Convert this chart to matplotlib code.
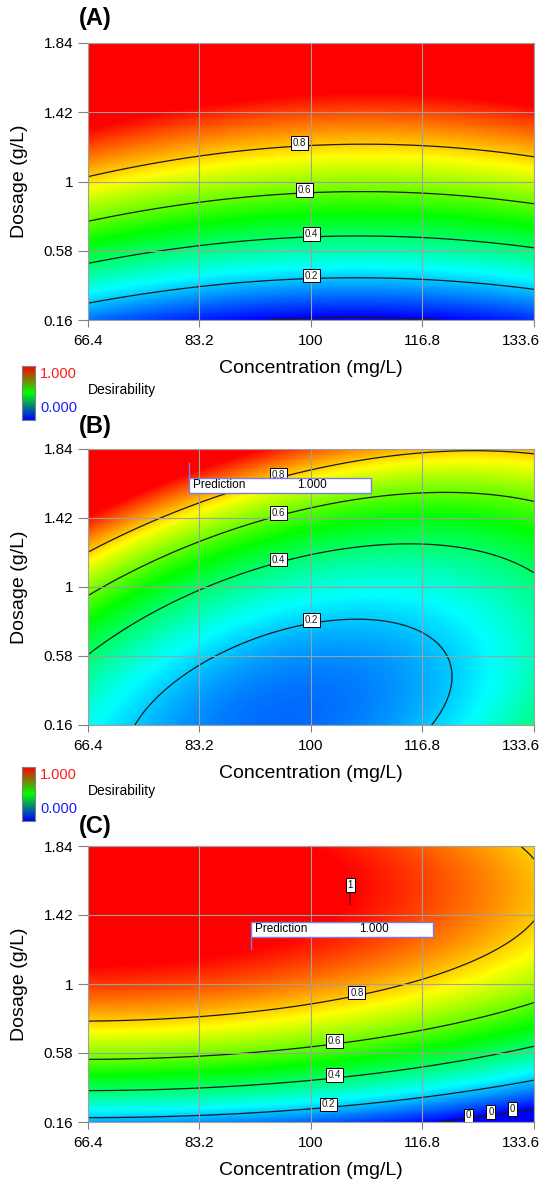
import numpy as np
import matplotlib.pyplot as plt
from matplotlib.colors import LinearSegmentedColormap
from matplotlib.patches import Rectangle
from matplotlib.transforms import ScaledTranslation

plt.rcParams['font.family'] = ['Liberation Sans', 'DejaVu Sans']

conc_ticks = [66.4, 83.2, 100, 116.8, 133.6]
conc_labels = ['66.4', '83.2', '100', '116.8', '133.6']
dose_ticks = [0.16, 0.58, 1, 1.42, 1.84]
dose_labels = ['0.16', '0.58', '1', '1.42', '1.84']
levels = [0.2, 0.4, 0.6, 0.8]

# points on the contour lines: concentration, dosage, desirability
a_conc = [66.4, 83.2, 100, 110.8, 116.0, 133.6,
          66.4, 83.2, 100, 116.0, 133.6,
          66.4, 83.2, 100, 116.0, 133.6,
          66.4, 83.2, 100, 110.8, 133.6,
          93.2, 119.2]
a_dose = [1.026, 1.158, 1.218, 1.224, 1.217, 1.152,
          0.761, 0.875, 0.935, 0.929, 0.866,
          0.504, 0.609, 0.662, 0.660, 0.597,
          0.261, 0.362, 0.413, 0.417, 0.346,
          0.16, 0.16]
a_desir = [0.8, 0.8, 0.8, 0.8, 0.8, 0.8,
           0.6, 0.6, 0.6, 0.6, 0.6,
           0.4, 0.4, 0.4, 0.4, 0.4,
           0.2, 0.2, 0.2, 0.2, 0.2,
           0.0, 0.0]

b_conc = [66.4, 75.3, 83.2, 94.9, 108.9, 116.9, 125.5, 133.6,
          66.4, 83.2, 94.9, 100, 116.9, 121.5, 133.6,
          66.4, 83.2, 94.9, 100, 116.9, 133.6,
          72.8, 80.3, 87.9, 100, 106.9, 115.5, 120.5, 121.2, 118.4]
b_dose = [1.217, 1.370, 1.512, 1.672, 1.773, 1.811, 1.823, 1.811,
          0.953, 1.248, 1.460, 1.491, 1.572, 1.578, 1.525,
          0.598, 0.974, 1.166, 1.207, 1.252, 1.096,
          0.16, 0.415, 0.619, 0.771, 0.785, 0.740, 0.578, 0.436, 0.16]
b_desir = [0.8, 0.8, 0.8, 0.8, 0.8, 0.8, 0.8, 0.8,
           0.6, 0.6, 0.6, 0.6, 0.6, 0.6, 0.6,
           0.4, 0.4, 0.4, 0.4, 0.4, 0.4,
           0.2, 0.2, 0.2, 0.2, 0.2, 0.2, 0.2, 0.2, 0.2]

c_conc = [66.4, 83.2, 100, 116.9, 125.5, 133.6, 131.2, 133.6,
          66.4, 83.2, 100, 116.9, 133.6,
          66.4, 83.2, 100, 116.9, 133.6,
          66.4, 83.2, 100, 116.9, 133.6,
          121.2, 127.0, 130.5, 133.6]
c_dose = [0.778, 0.797, 0.867, 1.019, 1.137, 1.370, 1.84, 1.745,
          0.539, 0.565, 0.635, 0.725, 0.887,
          0.352, 0.372, 0.411, 0.488, 0.630,
          0.184, 0.196, 0.239, 0.314, 0.424,
          0.174, 0.199, 0.220, 0.229]
c_desir = [0.8, 0.8, 0.8, 0.8, 0.8, 0.8, 0.8, 0.8,
           0.6, 0.6, 0.6, 0.6, 0.6,
           0.4, 0.4, 0.4, 0.4, 0.4,
           0.2, 0.2, 0.2, 0.2, 0.2,
           0.0, 0.0, 0.0, 0.0]

# where the contour labels sit
a_label_pos = [(98.2, 1.22), (99.0, 0.94), (100, 0.67), (100, 0.42)]
b_label_pos = [(94.9, 1.69), (94.9, 1.46), (94.9, 1.17), (100, 0.80)]
c_label_pos = [(106.8, 0.95), (103.4, 0.667), (103.4, 0.458), (102.6, 0.284)]
c_zero_label_pos = [(123.6, 0.21), (127.0, 0.233), (130.2, 0.251)]
c_one_label = (105.9, 1.603)

# prediction flags
b_pred = (81.6, 1.755, 1.000)
c_pred = (91.0, 1.215, 1.000)

desir_cmap = LinearSegmentedColormap.from_list(
    'desir', [(0, '#0000ff'), (0.25, '#00ffff'), (0.5, '#00ff00'), (0.75, '#ffff00'), (1, '#ff0000')])
legend_cmap = LinearSegmentedColormap.from_list('leg', ['#0000ff', '#00ff00', '#ff0000'])
flag_color = '#7b7bea'

x_mid = (conc_ticks[0] + conc_ticks[-1]) / 2
x_half = (conc_ticks[-1] - conc_ticks[0]) / 2
y_mid = (dose_ticks[0] + dose_ticks[-1]) / 2
y_half = (dose_ticks[-1] - dose_ticks[0]) / 2


def design_matrix(conc, dose):
    a = (np.asarray(conc, float) - x_mid) / x_half
    b = (np.asarray(dose, float) - y_mid) / y_half
    return np.stack([np.ones_like(a), a, b, a * b, a ** 2, b ** 2], axis=-1)


def fit_surface(conc, dose, desir):
    coef, *_ = np.linalg.lstsq(design_matrix(conc, dose), np.asarray(desir, float), rcond=None)
    return coef


W, H = 546, 1183
fig = plt.figure(figsize=(W / 100, H / 100), dpi=100)
label_lift = ScaledTranslation(0, 0.03, fig.dpi_scale_trans)


def px_axes(left, top, right, bottom):
    return fig.add_axes([left / W, 1 - bottom / H, (right - left) / W, (bottom - top) / H])


def style_labels(labs):
    for t in labs:
        t.set_rotation(0)
        t.set_bbox(dict(facecolor='white', edgecolor='black', pad=1.3, lw=0.7))
        t.set_zorder(4)
        t.set_transform(t.get_transform() + label_lift)


def draw_panel(ax, conc, dose, desir, label_pos, tag, tag_y):
    coef = fit_surface(conc, dose, desir)
    gx = np.linspace(conc_ticks[0], conc_ticks[-1], 300)
    gy = np.linspace(dose_ticks[0], dose_ticks[-1], 300)
    X, Y = np.meshgrid(gx, gy)
    Z = design_matrix(X, Y) @ coef
    ax.imshow(np.clip(Z, 0, 1), extent=[gx[0], gx[-1], gy[0], gy[-1]], origin='lower',
              aspect='auto', cmap=desir_cmap, vmin=0, vmax=1, interpolation='bilinear', zorder=0)
    cs = ax.contour(X, Y, Z, levels=levels, colors='#1a1a1a', linewidths=0.9, zorder=2)
    style_labels(ax.clabel(cs, manual=label_pos, inline=False, fontsize=7, fmt='%g'))

    ax.set_xticks(conc_ticks, conc_labels)
    ax.set_yticks(dose_ticks, dose_labels)
    ax.grid(True, color='#a0a0a0', lw=0.8)
    ax.set_axisbelow(False)
    ax.tick_params(axis='x', length=5, width=0.8, color='#808080', pad=5, labelsize=11)
    ax.tick_params(axis='y', length=7, width=0.8, color='#808080', pad=3.5, labelsize=11)
    last = ax.get_xticklabels()[-1]
    last.set_ha('right')
    last.set_transform(last.get_transform() + ScaledTranslation(0.06, 0, fig.dpi_scale_trans))
    for s in ax.spines.values():
        s.set_color('#a0a0a0')
    ax.set_xlabel('Concentration (mg/L)', fontsize=14)
    ax.xaxis.set_label_coords(0.5, -0.145)
    ax.set_ylabel('Dosage (g/L)', fontsize=14)
    ax.yaxis.set_label_coords(-0.135, 0.5)
    fig.text(79 / W, 1 - tag_y / H, tag, fontsize=17, fontweight='bold', va='center', ha='left')
    return X, Y, Z


def draw_legend(top):
    cax = fig.add_axes([22 / W, 1 - (top + 54) / H, 13 / W, 54 / H])
    cax.imshow(np.linspace(1, 0, 100)[:, None], aspect='auto', cmap=legend_cmap, vmin=0, vmax=1)
    cax.set_xticks([])
    cax.set_yticks([])
    for s in cax.spines.values():
        s.set_color('#808080')
    fig.text(40 / W, 1 - (top + 8) / H, '1.000', color='#ff1a1a', fontsize=10.5, va='center')
    fig.text(40 / W, 1 - (top + 42) / H, '0.000', color='#1a1aff', fontsize=10.5, va='center')
    fig.text(88 / W, 1 - (top + 24) / H, 'Desirability', fontsize=10, va='center')


def draw_prediction(ax, pred, box_dy):
    px, py, value = pred
    trans = fig.dpi_scale_trans + ScaledTranslation(px, py, ax.transData)
    ax.add_patch(Rectangle((0, box_dy), 1.82, 0.15, transform=trans, facecolor='white',
                           edgecolor=flag_color, lw=1, zorder=5))
    pin_end = box_dy + 0.15 if box_dy < 0 else box_dy
    ax.plot([0, 0], [0, pin_end], transform=trans, color=flag_color, lw=1, zorder=5)
    ax.text(0.04, box_dy + 0.075, 'Prediction', transform=trans, va='center', fontsize=8.5, zorder=6)
    ax.text(1.08, box_dy + 0.075, f'{value:.3f}', transform=trans, va='center', fontsize=8.5, zorder=6)


ax_a = px_axes(88, 43, 534, 320)
ax_b = px_axes(88, 449, 534, 725)
ax_c = px_axes(88, 846, 534, 1122)

X, Y, Z = draw_panel(ax_a, a_conc, a_dose, a_desir, a_label_pos, '(A)', 18)
ax_a.contour(X, Y, Z, levels=[0], colors='#1a1a1a', linewidths=0.9, zorder=2)

draw_panel(ax_b, b_conc, b_dose, b_desir, b_label_pos, '(B)', 426)
draw_prediction(ax_b, b_pred, -0.30)

X, Y, Z = draw_panel(ax_c, c_conc, c_dose, c_desir, c_label_pos, '(C)', 826)
cs0 = ax_c.contour(X, Y, Z, levels=[0], colors='#1a1a1a', linewidths=0.9, zorder=2)
style_labels(ax_c.clabel(cs0, manual=c_zero_label_pos, inline=False, fontsize=7, fmt='%g'))
one_trans = fig.dpi_scale_trans + ScaledTranslation(c_one_label[0], c_one_label[1], ax_c.transData)
ax_c.plot([0, 0], [-0.05, -0.19], transform=one_trans, color='#7a0000', lw=1.2, zorder=4)
ax_c.text(0, 0, '1', transform=one_trans, ha='center', va='center', fontsize=7, zorder=5,
          bbox=dict(facecolor='white', edgecolor='black', pad=1.3, lw=0.7))
draw_prediction(ax_c, c_pred, 0.12)

for ax in (ax_a, ax_b, ax_c):
    ax.set_xlim(conc_ticks[0], conc_ticks[-1])
    ax.set_ylim(dose_ticks[0], dose_ticks[-1])

draw_legend(366)
draw_legend(767)

fig.savefig('out.png', dpi=100)
